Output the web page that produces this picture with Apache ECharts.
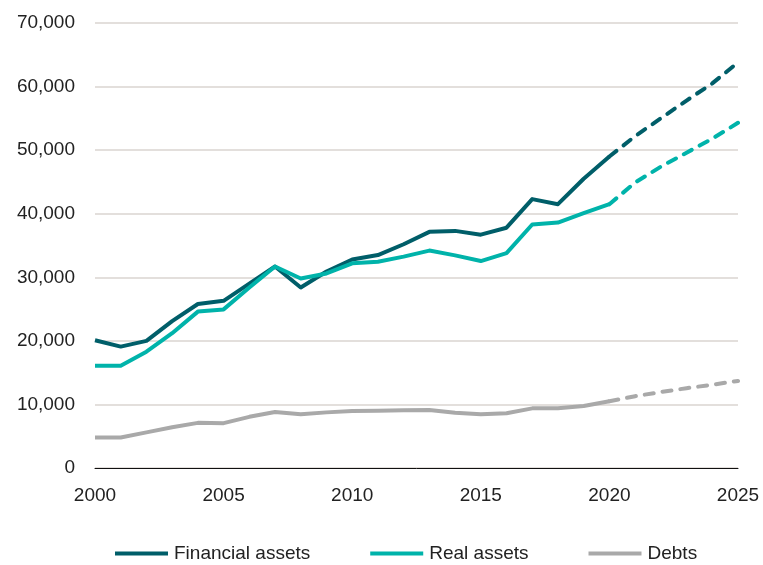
<!DOCTYPE html>
<html>
<head>
<meta charset="utf-8">
<script src="https://cdn.jsdelivr.net/npm/echarts@6/dist/echarts.min.js"></script>
<style>
  html, body { margin: 0; padding: 0; background: #fff; }
  #chart { width: 763px; height: 565px; }
</style>
</head>
<body>
<div id="chart"></div>
<script>
// years on the x axis
var years = []
for (var y = 2000; y <= 2025; y++) years.push(String(y))

// actual values 2000-2020
var financialAssets = [20100, 19100, 20000, 23100, 25800, 26300, 29000, 31700, 28400, 30900, 32800, 33500, 35200, 37150, 37300, 36700, 37800, 42300, 41500, 45500, 49000]
var realAssets = [16100, 16100, 18300, 21200, 24600, 24950, 28400, 31700, 29800, 30600, 32200, 32450, 33250, 34200, 33450, 32550, 33800, 38300, 38600, 40100, 41500]
var debts = [4800, 4800, 5600, 6400, 7100, 7050, 8050, 8800, 8450, 8750, 8950, 9000, 9080, 9130, 8700, 8440, 8600, 9380, 9400, 9750, 10500]

// projections 2020-2025 (first value repeats 2020)
var financialProj = [49000, 52200, 55000, 57800, 60500, 63800]
var realProj = [41500, 44900, 47400, 49600, 51800, 54300]
var debtsProj = [10500, 11300, 11950, 12550, 13100, 13700]

var colors = {
  financial: '#005e69',
  real: '#00b3aa',
  debts: '#a9a9a9'
}

function actual(values) {
  var out = values.slice()
  while (out.length < years.length) out.push(null)
  return out
}

function projected(values) {
  var out = []
  while (out.length < years.length - values.length) out.push(null)
  return out.concat(values)
}

function solidSeries(name, values, color) {
  return {
    name: name,
    type: 'line',
    data: actual(values),
    symbol: 'none',
    lineStyle: { color: color, width: 4, join: 'round' },
    itemStyle: { color: color },
    z: 3
  }
}

function dashedSeries(name, values, color) {
  return {
    name: name,
    type: 'line',
    data: projected(values),
    symbol: 'none',
    lineStyle: { color: color, width: 4, type: [9, 9], cap: 'round' },
    itemStyle: { color: color },
    z: 2
  }
}

var chart = echarts.init(document.getElementById('chart'))
var font = 'Liberation Sans, Arial, sans-serif'

chart.setOption({
  animation: false,
  textStyle: { fontFamily: font },
  grid: {
    left: 95,
    right: 25,
    top: 23,
    bottom: 97
  },
  legend: {
    data: ['Financial assets', 'Real assets', 'Debts'],
    top: 539,
    left: 110,
    icon: 'rect',
    itemWidth: 53,
    itemHeight: 4,
    itemGap: 60,
    textStyle: { fontSize: 19, color: '#222', fontFamily: font, padding: [0, 0, 0, 1] }
  },
  xAxis: {
    type: 'category',
    data: years,
    boundaryGap: false,
    axisLine: { show: true, lineStyle: { color: '#111', width: 1 } },
    axisTick: { show: false },
    axisLabel: {
      interval: 4,
      margin: 18,
      fontSize: 19,
      color: '#222'
    },
    splitLine: { show: false }
  },
  yAxis: {
    type: 'value',
    min: 0,
    max: 70000,
    interval: 10000,
    axisLine: { show: false },
    axisTick: { show: false },
    axisLabel: {
      margin: 20,
      fontSize: 19,
      color: '#222',
      formatter: function (v) { return v.toLocaleString('en-US') }
    },
    splitLine: { lineStyle: { color: '#dad5d0', width: 1.5 } }
  },
  series: [
    solidSeries('Financial assets', financialAssets, colors.financial),
    solidSeries('Real assets', realAssets, colors.real),
    solidSeries('Debts', debts, colors.debts),
    dashedSeries('Financial assets projection', financialProj, colors.financial),
    dashedSeries('Real assets projection', realProj, colors.real),
    dashedSeries('Debts projection', debtsProj, colors.debts)
  ]
})
</script>
</body>
</html>
